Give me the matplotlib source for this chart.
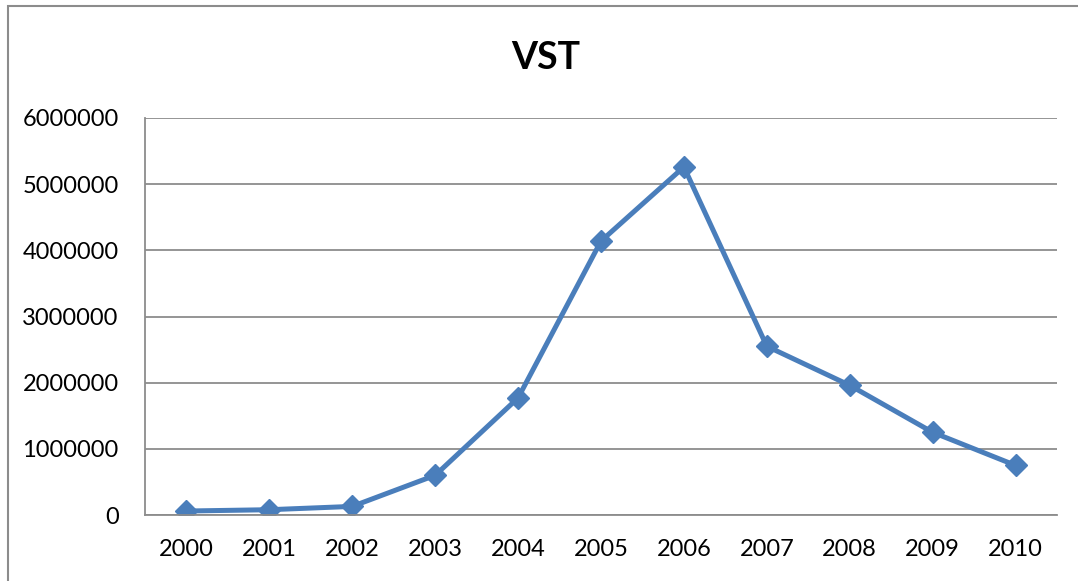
import matplotlib
matplotlib.use("Agg")
import matplotlib.pyplot as plt
from matplotlib.patches import Rectangle

years = ["2000", "2001", "2002", "2003", "2004", "2005", "2006", "2007", "2008", "2009", "2010"]
values = [60000, 80000, 130000, 600000, 1770000, 4140000, 5260000, 2550000, 1960000, 1250000, 750000]
yticks = [0, 1000000, 2000000, 3000000, 4000000, 5000000, 6000000]

plt.rcParams['font.family'] = ['Lato', 'DejaVu Sans']

fig = plt.figure(figsize=(10.78, 5.81), dpi=100)
W, H = 1078, 581
fig.patches.append(Rectangle((8 / W, -0.1), 1.2, (1 - 6 / H) + 0.1, transform=fig.transFigure,
                             fill=False, edgecolor="#8c8c8c", linewidth=1.5))

ax = fig.add_axes([145 / W, 1 - 515 / H, (1057 - 145) / W, (515 - 118) / H])
x = list(range(len(years)))
ax.plot(x, values, color="#4A7EBB", linewidth=3.6, marker="D", markersize=11,
        markerfacecolor="#4A7EBB", markeredgecolor="#4A7EBB", solid_joinstyle="miter")

ax.set_xlim(-0.5, len(years) - 0.5)
ax.set_ylim(0, 6000000)
ax.set_yticks(yticks)
ax.set_yticklabels([str(v) for v in yticks])
ax.set_xticks(x)
ax.set_xticklabels(years)
ax.tick_params(axis="both", length=0, labelsize=17, colors="black")
ax.tick_params(axis="x", pad=17)
ax.tick_params(axis="y", pad=19)
ax.grid(axis="y", color="#8c8c8c", linewidth=1.3)
ax.set_axisbelow(True)
for s in ["top", "right"]:
    ax.spines[s].set_visible(False)
ax.spines["left"].set_color("#8c8c8c")
ax.spines["left"].set_linewidth(1.3)
ax.spines["bottom"].set_color("#8c8c8c")
ax.spines["bottom"].set_linewidth(1.3)

fig.text(546 / W, 1 - 58 / H, "VST", ha="center", va="center", fontsize=27, fontweight="bold")

fig.savefig("out.png", dpi=100)
